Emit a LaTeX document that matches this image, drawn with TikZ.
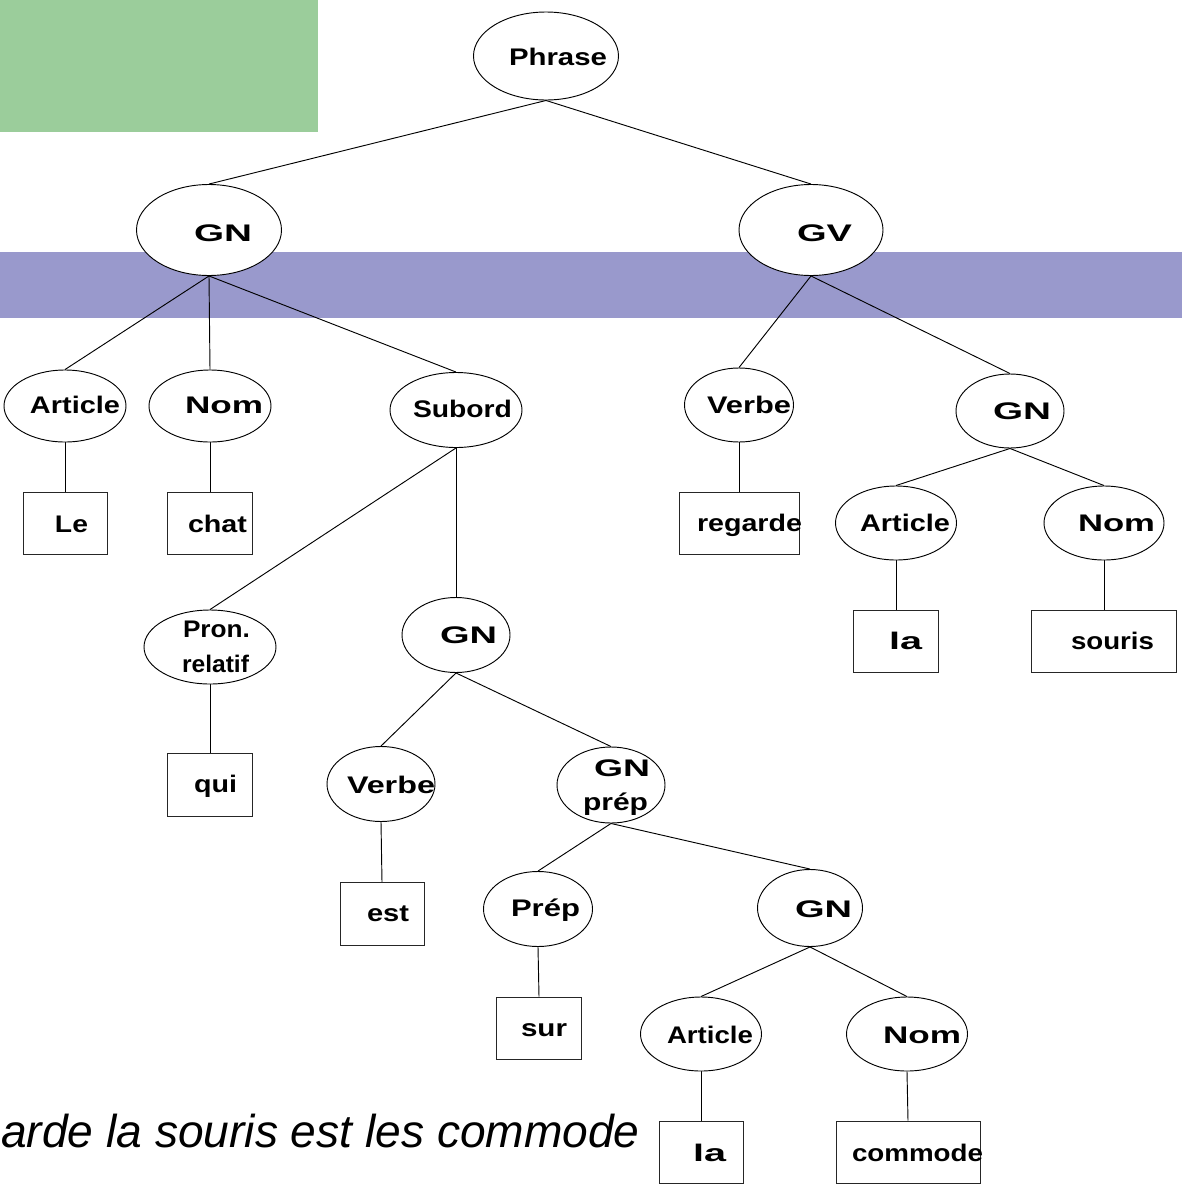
\documentclass[tikz,border=0pt]{standalone}
\usepackage{fontspec}
\usepackage{graphicx}
\usetikzlibrary{shapes.geometric,backgrounds}
\newfontfamily\lblfont{Liberation Sans}
\newlength\pxu \setlength\pxu{0.75pt}
\definecolor{leafgreen}{RGB}{155,205,155}
\definecolor{bandblue}{RGB}{153,153,204}
\tikzset{
  oval/.style={ellipse, draw=black, line width=0.7pt, fill=white, inner sep=0pt},
  leafbox/.style={rectangle, draw=black!85, line width=0.7pt, fill=white, inner sep=0pt},
  word/.style={anchor=base west, inner sep=0pt, outer sep=0pt,
    font=\lblfont\bfseries\fontsize{18}{18}\selectfont},
  branch/.style={line width=0.7pt, draw=black},
}
% name, centre (px), width (px), height (px)
\newcommand\ellat[4]{\node[oval, minimum width=#3\pxu, minimum height=#4\pxu] (#1) at (#2) {};}
\newcommand\rectat[4]{\node[leafbox, minimum width=#3\pxu, minimum height=#4\pxu] (#1) at (#2) {};}
% name, base-left point (px), width (px), text
\newcommand\wordat[4]{\node[word] (#1) at (#2) {\resizebox{#3\pxu}{\height}{#4}};}

\begin{document}
\begin{tikzpicture}[x=0.75pt, y=-0.75pt]
\useasboundingbox (0,0) rectangle (1182,1189);
\clip (0,0) rectangle (1182,1189);

% ---- tree nodes ----
\ellat{phr}{546,56}{145}{88}
\ellat{gn1}{209,230}{145}{91}
\ellat{gv}{811,230}{144}{91}
\ellat{art1}{65,406}{122}{72}
\ellat{nom1}{210,406}{122}{72}
\ellat{sub}{456,410}{132}{75}
\rectat{le}{65,523}{84}{62}
\rectat{chat}{210,523}{85}{62}
\ellat{verbe1}{739,405}{109}{74}
\ellat{gn2}{1010,411}{108}{74}
\rectat{regarde}{739,523}{120}{62}
\ellat{art2}{896,523}{121}{74}
\ellat{nom2}{1104,523}{120}{74}
\rectat{la1}{896,641}{85}{62}
\rectat{souris}{1104,641}{145}{62}
\ellat{pron}{210,647}{132}{74}
\ellat{gn3}{456,635}{108}{75}
\rectat{qui}{210,785}{85}{63}
\ellat{verbe2}{381,784}{108}{75}
\ellat{gnprep}{611,785}{108}{76}
\rectat{est}{382,914}{84}{63}
\ellat{prep}{538,909}{109}{75}
\ellat{gn4}{810,908}{105}{77}
\rectat{sur}{539,1028}{85}{62}
\ellat{art3}{701,1034}{121}{74}
\ellat{nom3}{907,1034}{121}{74}
\rectat{la2}{701,1152}{84}{62}
\rectat{commode}{908,1152}{144}{62}

% ---- labels ----
\wordat{phr-t}{509,65}{98}{Phrase}
\wordat{gn1-t}{194,241}{58}{GN}
\wordat{gv-t}{797,241}{55}{GV}
\wordat{art1-t}{30,413}{90}{Article}
\wordat{nom1-t}{185,413}{78}{Nom}
\wordat{sub-t}{413,417}{99}{Subord}
\wordat{le-t}{55,532}{33}{Le}
\wordat{chat-t}{188,532}{59}{chat}
\wordat{verbe1-t}{707,413}{84}{Verbe}
\wordat{gn2-t}{993,419}{58}{GN}
\wordat{regarde-t}{697,531}{105}{regarde}
\wordat{art2-t}{860,531}{90}{Article}
\wordat{nom2-t}{1078,531}{77}{Nom}
\wordat{la1-t}{889,649}{33}{la}
\wordat{souris-t}{1071,649}{83}{souris}
\wordat{pron-t1}{183,637}{67}{Pron.}
\wordat{pron-t2}{182,672}{67}{relatif}
\wordat{gn3-t}{440,643}{57}{GN}
\wordat{qui-t}{194,792}{43}{qui}
\wordat{verbe2-t}{347,793}{88}{Verbe}
\wordat{gnprep-t1}{594,776}{56}{GN}
\wordat{gnprep-t2}{583,810}{65}{prép}
\wordat{est-t}{367,921}{42}{est}
\wordat{prep-t}{511,916}{69}{Prép}
\wordat{gn4-t}{795,917}{57}{GN}
\wordat{sur-t}{521,1036}{46}{sur}
\wordat{art3-t}{667,1043}{86}{Article}
\wordat{nom3-t}{883,1043}{78}{Nom}
\wordat{la2-t}{693,1161}{33}{la}
\wordat{commode-t}{852,1161}{131}{commode}

\node[anchor=base west, inner sep=0pt,
      font=\lblfont\itshape\fontsize{34.6}{34.6}\selectfont] (sentence) at (1,1147)
      {arde la souris est les commode};

% ---- background panels and branches ----
\begin{pgfonlayer}{background}
  \fill[leafgreen] (0,0) rectangle (318,132);
  \fill[bandblue] (0,252) rectangle (1182,318);
  \draw[branch] (phr.south) -- (gn1.north);
  \draw[branch] (phr.south) -- (gv.north);
  \draw[branch] (gn1.south) -- (art1.north);
  \draw[branch] (gn1.south) -- (nom1.north);
  \draw[branch] (gn1.south) -- (sub.north);
  \draw[branch] (art1.south) -- (le.north);
  \draw[branch] (nom1.south) -- (chat.north);
  \draw[branch] (sub.south) -- (pron.north);
  \draw[branch] (sub.south) -- (gn3.north);
  \draw[branch] (gv.south) -- (verbe1.north);
  \draw[branch] (gv.south) -- (gn2.north);
  \draw[branch] (verbe1.south) -- (regarde.north);
  \draw[branch] (gn2.south) -- (art2.north);
  \draw[branch] (gn2.south) -- (nom2.north);
  \draw[branch] (art2.south) -- (la1.north);
  \draw[branch] (nom2.south) -- (souris.north);
  \draw[branch] (pron.south) -- (qui.north);
  \draw[branch] (gn3.south) -- (verbe2.north);
  \draw[branch] (gn3.south) -- (gnprep.north);
  \draw[branch] (verbe2.south) -- (est.north);
  \draw[branch] (gnprep.south) -- (prep.north);
  \draw[branch] (gnprep.south) -- (gn4.north);
  \draw[branch] (prep.south) -- (sur.north);
  \draw[branch] (gn4.south) -- (art3.north);
  \draw[branch] (gn4.south) -- (nom3.north);
  \draw[branch] (art3.south) -- (la2.north);
  \draw[branch] (nom3.south) -- (commode.north);
\end{pgfonlayer}
\end{tikzpicture}
\end{document}
